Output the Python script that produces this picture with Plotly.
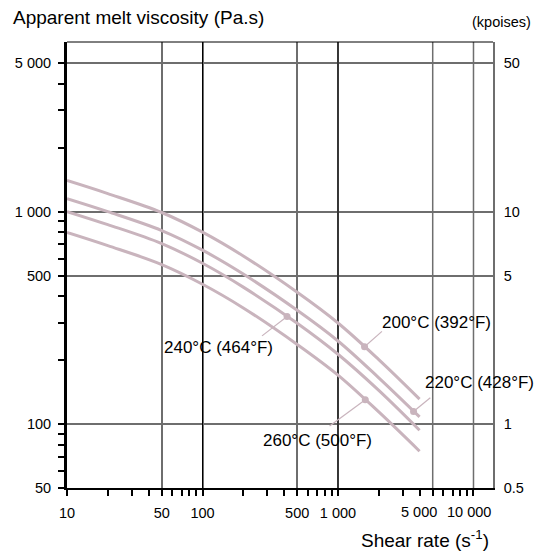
import math
import plotly.graph_objects as go

# ---- data ----
shear_rate = [10, 20, 50, 100, 200, 500, 1000, 2000, 4000]
visc_200 = [1400, 1215, 990, 800, 618, 417, 299, 201, 131]
visc_220 = [1150, 999, 814, 658, 508, 343, 246, 165, 108]
visc_240 = [1000, 868, 707, 571, 441, 298, 213, 144, 93.5]
visc_260 = [797, 691, 563, 455, 352, 237, 170, 114, 74.5]

curve_labels = ["200°C (392°F)", "220°C (428°F)", "240°C (464°F)", "260°C (500°F)"]
marker_x = [1570, 3610, 421, 1590]
marker_y = [231, 114.5, 321, 130]
leader_x = [2110, 4800, 275, 867]
leader_y = [273, 133, 260, 98]
label_x = [2050, 4240, 344, 272]
label_y = [302, 157, 230, 84]
label_anchor = ["left", "left", "right", "left"]

x_ticks = [10, 50, 100, 500, 1000]
x_ticktext = ["10", "50", "100", "500", "1 000"]
# the two crowded labels at the right end sit left of their ticks in the original
x_shifted_labels = ["5 000", "10 000"]
x_shifted_pos = [3930, 9270]
x_minor = [20, 30, 40, 60, 70, 80, 90, 200, 300, 400, 600, 700, 800, 900,
           2000, 3000, 4000, 5000, 6000, 7000, 8000, 9000, 10000]
y_ticks = [50, 100, 500, 1000, 5000]
y_ticktext = ["50", "100", "500", "1 000", "5 000"]
y2_ticktext = ["0.5", "1", "5", "10", "50"]
y_minor = [60, 70, 80, 90, 200, 300, 400, 600, 700, 800, 900, 2000, 3000, 4000]
black_grid_x = [100, 1000]
grey_grid_x = [5000, 10000]

X_RANGE = [1.0, 4.144]
Y_RANGE = [math.log10(50), 3.798]

CURVE = "#c9b4bd"
GRID = "#6e6e6e"
FONT = "Liberation Sans, Arial, Helvetica, sans-serif"

fig = go.Figure()


def vlines(values):
    xs, ys = [], []
    for v in values:
        xs += [v, v, None]
        ys += [10 ** Y_RANGE[0], 10 ** Y_RANGE[1], None]
    return xs, ys


gx, gy = vlines(grey_grid_x)
fig.add_trace(go.Scatter(x=gx, y=gy, mode="lines", line=dict(color=GRID, width=1.5),
                         hoverinfo="skip", showlegend=False))
gx, gy = vlines(black_grid_x)
fig.add_trace(go.Scatter(x=gx, y=gy, mode="lines", line=dict(color="black", width=1),
                         hoverinfo="skip", showlegend=False))

for vals in [visc_200, visc_220, visc_240, visc_260]:
    fig.add_trace(go.Scatter(x=shear_rate, y=vals, mode="lines",
                             line=dict(color=CURVE, width=3, shape="spline", smoothing=1),
                             showlegend=False))

lx, ly = [], []
for i in range(len(marker_x)):
    lx += [marker_x[i], leader_x[i], None]
    ly += [marker_y[i], leader_y[i], None]
fig.add_trace(go.Scatter(x=lx, y=ly, mode="lines", line=dict(color=CURVE, width=1.2),
                         showlegend=False, hoverinfo="skip"))
fig.add_trace(go.Scatter(x=marker_x, y=marker_y, mode="markers",
                         marker=dict(color=CURVE, size=7), showlegend=False))

# dummy trace for the right-hand axis
fig.add_trace(go.Scatter(x=[shear_rate[0]], y=[visc_200[0]], yaxis="y2", mode="none",
                         showlegend=False, hoverinfo="skip"))

annotations = []
for i, t in enumerate(curve_labels):
    annotations.append(dict(x=math.log10(label_x[i]), y=math.log10(label_y[i]),
                            xref="x", yref="y", text=t, showarrow=False,
                            xanchor=label_anchor[i], yanchor="middle",
                            font=dict(size=17, color="black", family=FONT)))
for t, p in zip(x_shifted_labels, x_shifted_pos):
    annotations.append(dict(x=math.log10(p), y=-0.0538, xref="x", yref="paper", text=t,
                            showarrow=False, xanchor="center", yanchor="middle",
                            font=dict(size=14.5, color="black", family=FONT)))
annotations += [
    dict(x=-0.1311, y=1.0548, xref="paper", yref="paper", text="Apparent melt viscosity (Pa.s)",
         showarrow=False, xanchor="left", yanchor="middle",
         font=dict(size=19, color="black", family=FONT)),
    dict(x=1.0937, y=1.0459, xref="paper", yref="paper", text="(kpoises)",
         showarrow=False, xanchor="right", yanchor="middle",
         font=dict(size=14.5, color="black", family=FONT)),
    dict(x=0.9953, y=-0.1141, xref="paper", yref="paper", text="Shear rate (s<sup>-1</sup>)",
         showarrow=False, xanchor="right", yanchor="middle",
         font=dict(size=19, color="black", family=FONT)),
]

fig.update_layout(
    width=542, height=551,
    margin=dict(l=67, r=49, t=42, b=63, autoexpand=False),
    paper_bgcolor="white", plot_bgcolor="white",
    font=dict(family=FONT, color="black", size=14.5),
    xaxis=dict(type="log", range=X_RANGE, tickmode="array", tickvals=x_ticks,
               ticktext=x_ticktext, ticks="outside", ticklen=6, tickwidth=1.5,
               tickcolor="black", showgrid=True, gridcolor=GRID, gridwidth=1.5,
               showline=True, linecolor="black", linewidth=2, zeroline=False,
               tickangle=0, automargin=False, ticklabelstandoff=5,
               tickfont=dict(size=14.5),
               minor=dict(tickvals=x_minor, ticks="outside", ticklen=6, tickwidth=1.5,
                          tickcolor="black", showgrid=False)),
    yaxis=dict(type="log", range=Y_RANGE, tickmode="array", tickvals=y_ticks,
               ticktext=y_ticktext, ticks="outside", ticklen=6, tickwidth=1.5,
               tickcolor="black", showgrid=True, gridcolor=GRID, gridwidth=1.5,
               showline=True, linecolor="black", linewidth=3, zeroline=False,
               automargin=False, ticklabelstandoff=4,
               tickfont=dict(size=14.5),
               minor=dict(tickvals=y_minor, ticks="outside", ticklen=6, tickwidth=1.5,
                          tickcolor="black", showgrid=False)),
    yaxis2=dict(type="log", range=Y_RANGE, overlaying="y", side="right", anchor="x",
                tickmode="array", tickvals=y_ticks, ticktext=y2_ticktext,
                ticks="outside", ticklen=6, tickcolor="rgba(0,0,0,0)",
                showgrid=False, showline=True, linecolor=GRID, linewidth=1.5,
                zeroline=False, automargin=False, tickfont=dict(size=14.5)),
    shapes=[dict(type="line", xref="paper", yref="paper", x0=0, x1=1, y0=1, y1=1,
                 line=dict(color="black", width=1))],
    annotations=annotations,
)

fig.write_html("out.html", config={"displayModeBar": False},
               post_script="document.body.style.margin='0px';")
